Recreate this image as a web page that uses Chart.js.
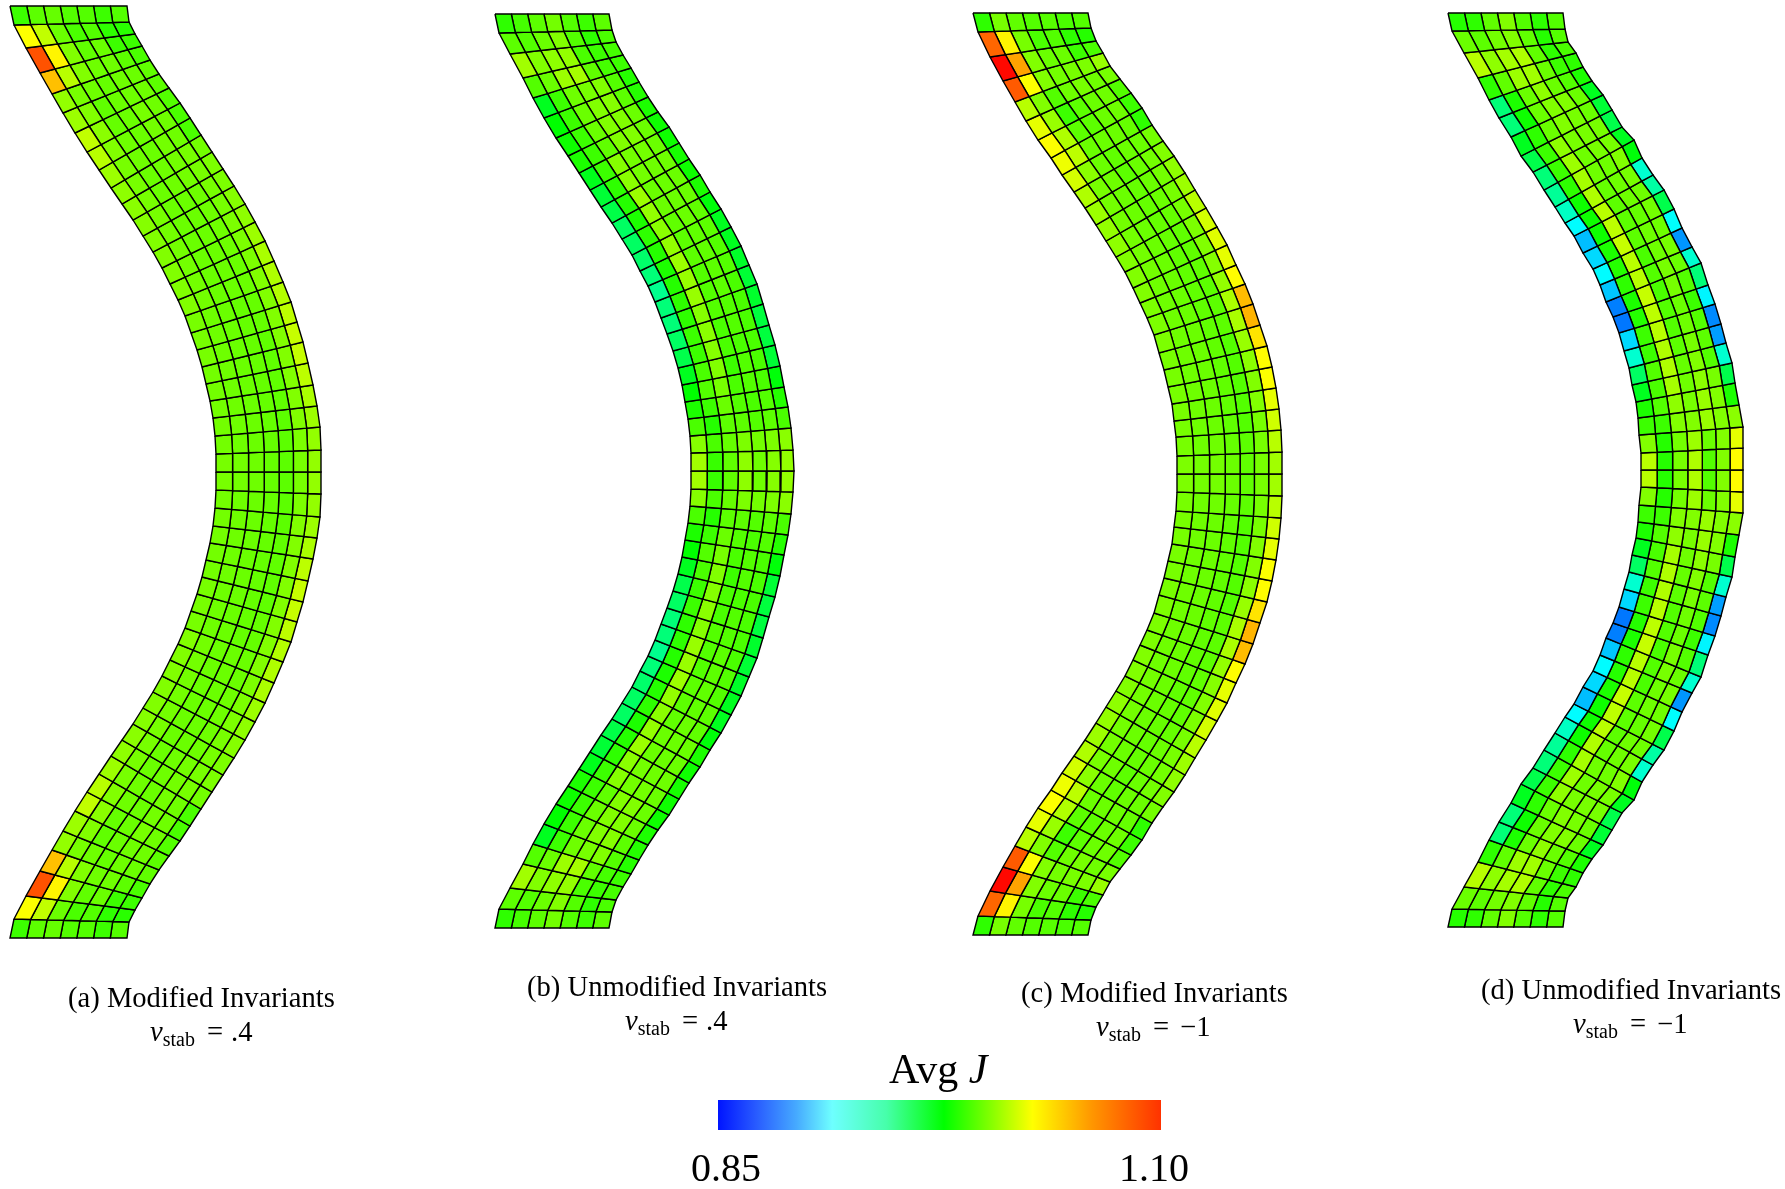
<!DOCTYPE html>
<html><head><meta charset="utf-8">
<script src="https://cdn.jsdelivr.net/npm/chart.js@4"></script>
<style>html,body{margin:0;padding:0;background:#fff}#wrap{position:relative;width:1785px;height:1189px;overflow:hidden}
canvas{position:absolute}</style></head>
<body><div id="wrap"><canvas id="mesh" width="1785" height="1189" style="left:0;top:0"></canvas>
<canvas id="bar" width="520" height="89" style="left:680px;top:1100px"></canvas></div>
<script>
// Node positions along the two long edges, top end to mid-height (mirrored for the lower half)
const leftA=[[10,6],[14,25],[26,48],[40,73],[52,94],[63,113],[75,133],[87,152],[99,170],[111,188],[122,204],[133,220],[143,236],[153,252],[162,268],[170,284],[178,300],[185,316],[191,333],[197,350],[202,367],[206,384],[210,401],[213,418],[215,436],[216,454],[216,472]];
const rightA=[[127,6],[129,22],[135,34],[142,46],[150,60],[159,74],[169,88],[180,103],[190,118],[201,135],[212,152],[223,169],[234,186],[245,204],[255,222],[265,241],[274,261],[283,282],[291,302],[297,322],[303,342],[308,363],[313,385],[317,406],[320,427],[321,450],[321,472]];
const leftB=[[495,14],[499,33],[510,54],[523,78],[533,98],[544,118],[556,138],[568,156],[579,173],[590,190],[601,207],[612,223],[622,239],[632,255],[640,271],[648,286],[655,302],[661,318],[667,334],[673,351],[678,368],[682,385],[685,402],[688,419],[690,436],[691,453],[691,471]];
const rightB=[[609,14],[612,30],[616,42],[623,55],[631,68],[639,82],[648,97],[658,112],[669,127],[679,143],[689,159],[700,175],[710,192],[721,209],[731,227],[741,246],[749,265],[757,284],[763,304],[769,325],[775,345],[780,366],[784,387],[788,407],[791,428],[793,450],[794,471]];
const leftC=[[973,13],[978,32],[990,57],[1003,81],[1015,102],[1026,121],[1038,140],[1051,158],[1062,175],[1074,192],[1085,208],[1096,225],[1106,241],[1116,257],[1125,272],[1133,288],[1140,303],[1147,318],[1154,335],[1159,353],[1164,370],[1168,387],[1172,404],[1174,421],[1176,437],[1177,456],[1177,474]];
const rightC=[[1088,13],[1091,28],[1096,41],[1103,53],[1110,66],[1120,79],[1131,93],[1142,108],[1152,125],[1163,141],[1174,156],[1185,173],[1195,190],[1206,208],[1217,227],[1227,245],[1236,265],[1245,284],[1253,304],[1260,325],[1267,346],[1272,367],[1276,388],[1279,409],[1281,430],[1282,452],[1282,474]];
const leftD=[[1448,13],[1452,31],[1464,53],[1478,78],[1489,100],[1499,118],[1511,137],[1521,156],[1533,172],[1544,190],[1555,207],[1565,223],[1574,236],[1583,253],[1593,269],[1600,285],[1606,302],[1613,317],[1619,333],[1624,351],[1629,368],[1632,385],[1636,402],[1638,418],[1639,435],[1641,453],[1641,470]];
const rightD=[[1563,13],[1565,29],[1568,42],[1576,53],[1583,67],[1592,81],[1603,95],[1612,110],[1622,127],[1634,140],[1642,158],[1653,175],[1664,190],[1674,209],[1682,228],[1692,247],[1701,263],[1708,285],[1715,304],[1721,324],[1726,343],[1732,363],[1735,383],[1739,405],[1743,427],[1743,448],[1743,470]];
const columnFractionsEnd=[0,.143,.286,.429,.571,.714,.857,1];
const columnFractionsMid=[0,.158,.31,.459,.601,.737,.873,1];
// Avg J x 1000, seven cells per row, top end to mid-height
const jA=[[985,992,994,990,990,985,990],[1027,1014,995,988,990,982,981],[1070,1030,1000,993,995,985,985],[1043,1012,1000,996,996,992,988],[1004,998,996,994,996,995,993],[1006,1000,993,995,996,996,992],[1014,1002,994,995,998,996,990],[1012,1000,996,995,997,996,988],[1006,998,996,995,997,996,988],[1003,998,995,996,997,998,997],[1002,998,995,996,997,998,999],[1001,998,995,995,996,998,999],[1000,997,995,995,996,998,1001],[1000,997,995,995,996,999,1003],[1000,997,995,995,996,999,1006],[1000,997,995,995,995,999,1009],[1000,997,995,995,995,1000,1010],[998,996,995,994,994,1000,1011],[998,996,995,994,994,1000,1013],[998,996,995,994,993,1000,1015],[997,996,995,994,993,1000,1015],[997,996,995,994,993,1000,1013],[997,996,995,994,993,1000,1009],[997,996,995,994,992,1000,1006],[997,996,995,994,992,999,1004],[998,997,996,994,992,998,1004]];
const jB=[[982,987,992,997,990,985,992],[992,990,995,1000,990,982,988],[1007,1000,1003,1004,988,985,987],[990,995,1006,1008,993,987,985],[965,985,996,998,1000,990,980],[972,985,995,1000,1001,992,980],[975,985,995,1000,1000,995,978],[978,985,993,1000,1000,995,975],[966,985,1001,997,997,995,975],[960,982,1002,997,996,996,977],[956,980,1006,995,995,995,975],[950,978,1004,995,995,995,978],[950,982,1002,993,995,993,970],[948,980,1004,992,993,992,965],[945,978,1006,992,993,990,965],[940,980,1005,990,992,990,963],[945,982,1005,990,992,988,960],[945,982,1001,990,990,988,962],[950,985,1002,988,990,988,958],[955,985,1001,988,988,988,958],[965,988,1000,985,990,988,960],[972,990,998,988,990,988,970],[978,985,995,990,988,990,980],[988,980,992,992,990,992,988],[1001,988,994,999,997,999,1002],[1007,984,993,1003,996,1001,1004]];
const jC=[[982,998,993,990,991,988,990],[1065,1030,998,988,990,982,980],[1088,1050,1000,995,995,985,988],[1068,1027,1000,997,998,999,1005],[1012,1000,990,996,998,996,998],[1022,1005,985,992,995,996,990],[1027,1010,992,992,995,996,985],[1024,1013,995,995,995,994,982],[1018,1002,995,993,995,995,997],[1010,998,996,992,995,997,1000],[1006,997,995,994,995,997,1003],[1004,997,995,994,995,998,1006],[1003,997,995,994,994,998,1012],[1000,997,995,994,993,999,1018],[1000,997,995,993,993,1000,1021],[1000,996,995,993,993,1001,1022],[999,996,995,993,992,1004,1028],[999,996,995,993,992,1009,1044],[999,996,995,993,992,1009,1046],[998,996,995,993,990,1005,1034],[998,996,995,993,990,1002,1028],[998,996,995,993,990,1000,1027],[998,996,995,993,990,1000,1022],[998,996,995,993,990,998,1017],[998,996,996,994,992,998,1012],[999,997,997,995,993,998,1007]];
const jD=[[980,982,993,1000,990,982,990],[995,992,997,1000,993,980,990],[1012,1003,1008,1010,993,982,988],[982,993,1006,1007,995,985,982],[945,978,995,1003,995,990,978],[945,975,995,1000,1000,995,965],[965,982,995,1000,998,995,960],[955,985,1003,998,998,998,955],[945,985,1006,996,998,998,965],[938,982,1008,996,996,1000,970],[928,975,1010,994,996,998,925],[914,975,1012,992,996,996,935],[898,975,1013,992,994,997,955],[905,978,1015,992,996,996,915],[914,980,1012,988,996,998,888],[900,982,1012,990,998,995,925],[882,978,1015,988,998,990,945],[880,980,1013,990,995,985,912],[905,985,1012,990,996,990,885],[925,985,1010,992,998,992,890],[950,990,1010,994,1000,990,925],[965,988,1008,996,1002,998,955],[978,990,1003,998,1005,1000,978],[985,985,1000,1000,1005,1000,1002],[1000,980,997,1006,995,1000,1022],[1012,980,998,1010,990,1000,1028]];
// Colour scale
const meshStopJ=[850,914.5,972,1027.5,1090,1100];
const meshStopRGB=[[0,0,255],[0,255,255],[0,255,0],[255,255,0],[255,0,0],[255,0,0]];
const barStopPos=[0,.085,.177,.258,.38,.51,.614,.71,.845,1];
const barStopRGB=[[0,20,255],[40,90,255],[70,170,255],[110,255,255],[70,255,170],[0,255,0],[130,255,0],[255,255,0],[255,150,0],[255,50,0]];
const barRange=[0.85,1.10];
const barTickLabels=['0.85','1.10'];
const barTickAt=[0.8545,1.096];
const serif='"Liberation Serif","Times New Roman",serif';
const nu=(rest,gap)=>[['ν','italic',28.6],['stab','',20,5],['=','',28.6,0,12],[rest,'',28.6,0,gap]];
const captions=[
 {x:68,y:1007,parts:[['(a) Modified Invariants','',28.6]]},
 {x:150,y:1041,parts:nu('.4',8)},
 {x:527,y:996,parts:[['(b) Unmodified Invariants','',28.6]]},
 {x:625,y:1030,parts:nu('.4',8)},
 {x:1021,y:1002,parts:[['(c) Modified Invariants','',28.6]]},
 {x:1096,y:1036,parts:nu('−1',11)},
 {x:1481,y:999,parts:[['(d) Unmodified Invariants','',28.6]]},
 {x:1573,y:1033,parts:nu('−1',11)},
 {x:889,y:1083,parts:[['Avg ','',42],['J','italic',42]]}
];
function meshColor(j){
  let i=0;while(i<meshStopJ.length-2&&j>meshStopJ[i+1])i++;
  const t=Math.max(0,Math.min(1,(j-meshStopJ[i])/(meshStopJ[i+1]-meshStopJ[i])));
  const a=meshStopRGB[i],b=meshStopRGB[i+1];
  return 'rgb('+a.map((v,k)=>Math.round(v+(b[k]-v)*t)).join(',')+')';
}
function panelDatasets(L,R,J){
  const half=J.length,cy=L[half][1],out=[];
  const node=(row,c)=>{
    const m=row<=half?row:2*half-row,k=m/half;
    const f=columnFractionsEnd[c]+(columnFractionsMid[c]-columnFractionsEnd[c])*Math.min(1,k*2);
    const x=L[m][0]+(R[m][0]-L[m][0])*f,y=L[m][1]+(R[m][1]-L[m][1])*f;
    return {x,y:row<=half?y:2*cy-y};
  };
  for(let r=0;r<2*half;r++){
    const vals=J[r<half?r:2*half-1-r];
    for(let c=0;c<7;c++){
      const p0=node(r,c);
      out.push({type:'line',data:[p0,node(r,c+1),node(r+1,c+1),node(r+1,c),p0],
        fill:'shape',backgroundColor:meshColor(vals[c]),borderColor:'#000',borderWidth:1.4,
        pointRadius:0,tension:0,borderJoinStyle:'miter',clip:false,label:'J'});
    }
  }
  return out;
}
const captionPlugin={id:'captions',afterDatasetsDraw(ch){
  const g=ch.ctx,sx=ch.scales.x,sy=ch.scales.y;
  g.save();g.fillStyle='#000';g.textBaseline='alphabetic';g.textAlign='left';
  for(const cap of captions){
    let px=sx.getPixelForValue(cap.x);const py=sy.getPixelForValue(cap.y);
    for(const p of cap.parts){
      g.font=(p[1]?p[1]+' ':'')+p[2]+'px '+serif;
      px+=p[4]||0;
      g.fillText(p[0],px,py+(p[3]||0));
      px+=g.measureText(p[0]).width;
    }
  }
  g.restore();
}};
new Chart(document.getElementById('mesh'),{
  type:'line',
  data:{datasets:[...panelDatasets(leftA,rightA,jA),...panelDatasets(leftB,rightB,jB),...panelDatasets(leftC,rightC,jC),...panelDatasets(leftD,rightD,jD)]},
  options:{responsive:false,animation:false,events:[],parsing:false,normalized:true,
    layout:{padding:0},
    plugins:{legend:{display:false},tooltip:{enabled:false},title:{display:false}},
    scales:{x:{type:'linear',min:0,max:1785,display:false},y:{type:'linear',min:0,max:1189,reverse:true,display:false}}},
  plugins:[captionPlugin]
});
new Chart(document.getElementById('bar'),{
  type:'bar',
  data:{labels:['Avg J'],datasets:[{data:[barRange],barPercentage:1,categoryPercentage:1,borderSkipped:false,
    backgroundColor(ctx){
      const a=ctx.chart.chartArea;if(!a)return '#000';
      const gr=ctx.chart.ctx.createLinearGradient(a.left,0,a.right,0);
      barStopPos.forEach((p,i)=>gr.addColorStop(p,'rgb('+barStopRGB[i].join(',')+')'));
      return gr;
    }}]},
  options:{indexAxis:'y',responsive:false,animation:false,events:[],
    layout:{padding:{left:38,right:39,top:0,bottom:0}},
    plugins:{legend:{display:false},tooltip:{enabled:false}},
    scales:{
      y:{display:false},
      x:{type:'linear',min:barRange[0],max:barRange[1],border:{display:false},
        grid:{display:false,drawTicks:false},
        afterBuildTicks(s){s.ticks=barTickAt.map(v=>({value:v}));},
        afterFit(s){s.height=59;s.paddingLeft=0;s.paddingRight=0;},
        ticks:{autoSkip:false,maxRotation:0,color:'#000',padding:16,font:{family:serif,size:40},
          callback(v,i){return barTickLabels[i];}}}
    }}
});
</script></body></html>
